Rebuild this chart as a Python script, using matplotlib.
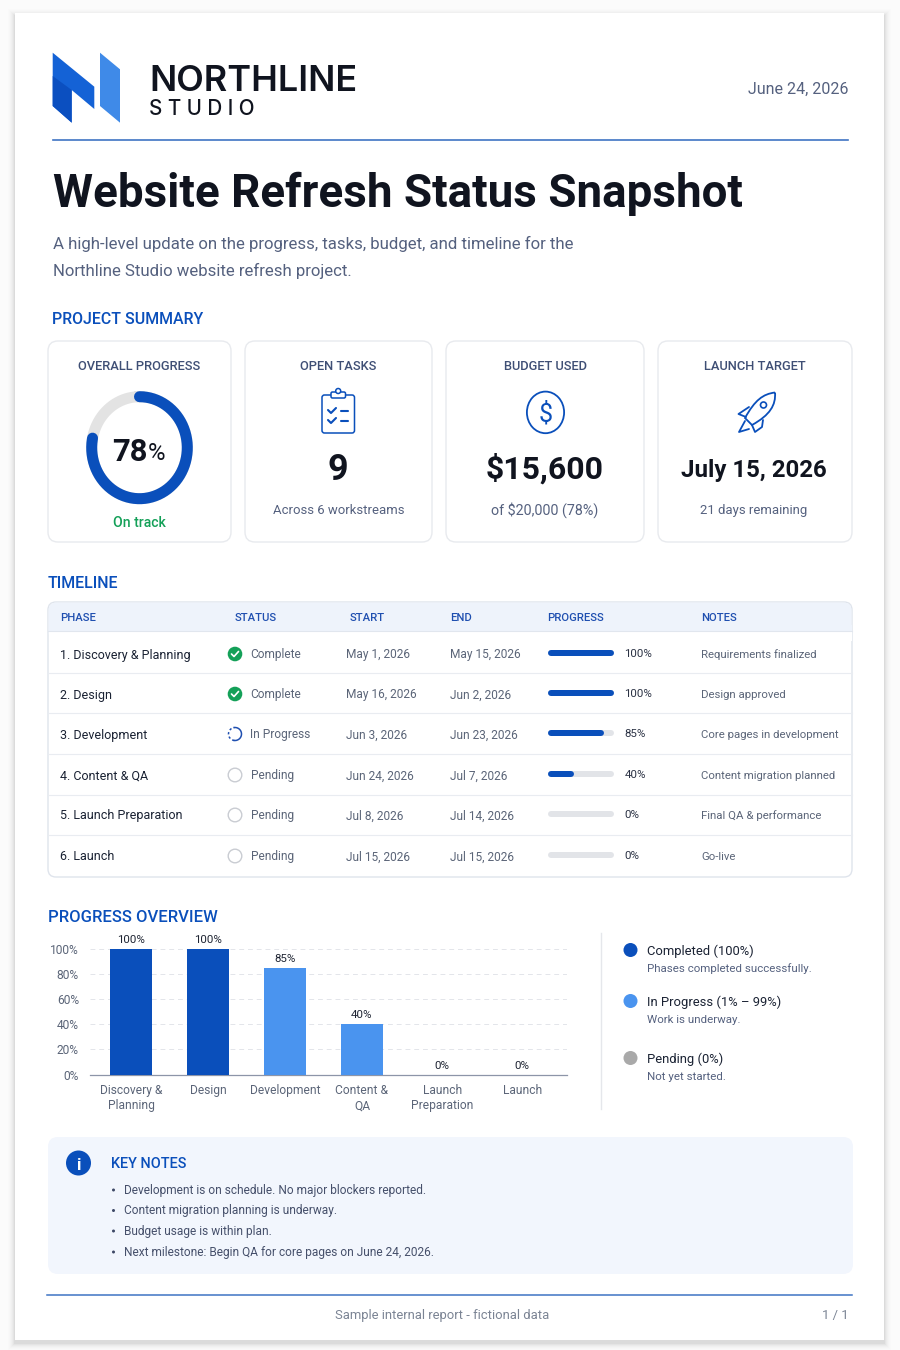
import numpy as np
import matplotlib
matplotlib.use("Agg")
import matplotlib.pyplot as plt
from matplotlib.patches import Circle, Ellipse, FancyBboxPatch, PathPatch, Polygon, Rectangle
from matplotlib.path import Path

plt.rcParams['font.family'] = ['Roboto', 'DejaVu Sans']

# data
phases = ["1. Discovery & Planning", "2. Design", "3. Development", "4. Content & QA",
          "5. Launch Preparation", "6. Launch"]
statuses = ["Complete", "Complete", "In Progress", "Pending", "Pending", "Pending"]
starts = ["May 1, 2026", "May 16, 2026", "Jun 3, 2026", "Jun 24, 2026", "Jul 8, 2026", "Jul 15, 2026"]
ends = ["May 15, 2026", "Jun 2, 2026", "Jun 23, 2026", "Jul 7, 2026", "Jul 14, 2026", "Jul 15, 2026"]
progress = [100, 100, 85, 40, 0, 0]
notes = ["Requirements finalized", "Design approved", "Core pages in development",
         "Content migration planned", "Final QA & performance", "Go-live"]
headers = ["PHASE", "STATUS", "START", "END", "PROGRESS", "NOTES"]

overall_progress = 78
chart_labels = ["Discovery &\nPlanning", "Design", "Development", "Content &\nQA",
                "Launch\nPreparation", "Launch"]
y_ticks = [0, 20, 40, 60, 80, 100]

legend_titles = ["Completed (100%)", "In Progress (1% – 99%)", "Pending (0%)"]
legend_texts = ["Phases completed successfully.", "Work is underway.", "Not yet started."]
key_notes = ["Development is on schedule. No major blockers reported.",
             "Content migration planning is underway.",
             "Budget usage is within plan.",
             "Next milestone: Begin QA for core pages on June 24, 2026."]

# colours
BLUE = '#0a4fbb'
LIGHT_BLUE = '#4a94ef'
DARK = '#10141f'
SLATE = '#55617f'
GREY_TEXT = '#5b6578'
GREEN = '#14a058'
RULE = '#3f74c4'
BORDER = '#e8eaee'

fig = plt.figure(figsize=(9, 13.5), dpi=100, facecolor='#fbfbfb')
# the whole page is one axes in pixel units, y going down
ax = fig.add_axes([0, 0, 1, 1])
ax.set_xlim(0, 900)
ax.set_ylim(1350, 0)
ax.axis('off')


def txt(x, y, s, px, color=DARK, weight='normal', ha='left', family=None):
    # y is the middle of the capitals, size is in pixels
    return ax.text(x, y + 0.36 * px, s, fontsize=px * 0.72, color=color, fontweight=weight,
                   ha=ha, va='baseline', family=family)


def box(x0, y0, x1, y1, r, fc, ec='none', lw=1.0):
    ax.add_patch(FancyBboxPatch((x0 + r, y0 + r), x1 - x0 - 2 * r, y1 - y0 - 2 * r,
                                boxstyle=f"round,pad={r},rounding_size={r}", fc=fc, ec=ec, lw=lw))


def icon_line(points, lw=1.5, color=BLUE):
    xs, ys = zip(*points)
    ax.plot(xs, ys, color=color, lw=lw, solid_capstyle='round', solid_joinstyle='round')


# page and its soft shadow
for i, a in zip(range(7, 0, -1), [0.006, 0.009, 0.012, 0.016, 0.02, 0.028, 0.04]):
    ax.add_patch(Rectangle((15 - i, 13 - i + 3), 869 + 2 * i, 1327 + 2 * i, fc='black', alpha=a, ec='none'))
ax.add_patch(Rectangle((15, 13), 869, 1327, fc='white', ec='none'))

# logo
ax.add_patch(Polygon([(52.7, 52.7), (94.3, 86.7), (94.3, 109), (71.7, 90), (71.7, 122.7), (52.7, 106)],
                     fc='#1462d6', ec='none'))
ax.add_patch(Polygon([(52.7, 76), (71.7, 90), (71.7, 122.7), (52.7, 106)], fc='#0b4fc0', ec='none'))
ax.add_patch(Polygon([(100, 52.7), (120, 69.3), (120, 122.7), (100, 106)], fc='#3f8ae8', ec='none'))
txt(149, 78, "NORTHLINE", 36, weight='semibold', family=['Inter', 'DejaVu Sans'])
txt(149, 108, "S T U D I O", 20.6, weight='medium', family=['Inter', 'DejaVu Sans'])
txt(848, 88, "June 24, 2026", 16, SLATE, ha='right')
ax.plot([53, 848], [140, 140], color=RULE, lw=1.2)

# title block
txt(53, 191, "Website Refresh Status Snapshot", 45.8, weight='bold')
txt(53, 243, "A high-level update on the progress, tasks, budget, and timeline for the", 16.8, SLATE)
txt(53, 270, "Northline Studio website refresh project.", 16.8, SLATE)

# project summary cards
txt(52, 318, "PROJECT SUMMARY", 15.9, BLUE, 'medium')
for x0, x1 in [(48, 231), (245, 432), (446, 644), (658, 852)]:
    box(x0, 341, x1, 542, 10, 'white', BORDER, 1.0)
txt(139.5, 365, "OVERALL PROGRESS", 12.9, '#3f4f75', 'medium', 'center')
txt(338.5, 365, "OPEN TASKS", 12.9, '#3f4f75', 'medium', 'center')
txt(545, 365, "BUDGET USED", 12.9, '#3f4f75', 'medium', 'center')
txt(754.5, 365, "LAUNCH TARGET", 12.9, '#3f4f75', 'medium', 'center')

# donut, a little taller than wide like the reference
t = np.linspace(0, 2 * np.pi, 200)
ax.plot(139.5 + 47.8 * np.sin(t), 447.7 - 51 * np.cos(t), color='#e3e3e3', lw=11 * 0.72)
t = np.linspace(0, 2 * np.pi * overall_progress / 100, 200)
ax.plot(139.5 + 47.8 * np.sin(t), 447.7 - 51 * np.cos(t), color=BLUE, lw=11 * 0.72, solid_capstyle='round')
txt(147.5, 450, "78", 31, weight='bold', ha='right')
txt(147.5, 451, "%", 24)
txt(139.5, 522, "On track", 14, GREEN, 'medium', 'center')

# clipboard icon
box(322, 395, 354.5, 433, 2.5, 'white', BLUE, 1.1)
box(331, 392, 345.5, 398, 1.5, 'white', BLUE, 1.1)
ax.add_patch(Circle((338.2, 391), 2.5, fc='white', ec=BLUE, lw=1.1))
icon_line([(328, 410), (331, 413), (336, 408)])
icon_line([(328, 420), (331, 423), (336, 418)])
icon_line([(341, 410.5), (348, 410.5)])
icon_line([(341, 420.5), (348, 420.5)])
txt(338, 467, "9", 36, weight='bold', ha='center')
txt(338.5, 509, "Across 6 workstreams", 13.1, SLATE, ha='center')

# dollar icon
ax.add_patch(Ellipse((545.5, 412.4), 37.2, 41.6, fc='white', ec=BLUE, lw=1.3))
txt(545.5, 412.5, "$", 25, BLUE, ha='center')
txt(545, 467, "$15,600", 32, weight='bold', ha='center')
txt(545, 509, "of $20,000 (78%)", 14.2, SLATE, ha='center')

# rocket icon
rocket = Path([(775, 392.5), (763, 394), (755, 400), (745, 418), (752, 425), (770, 415), (776, 405), (775, 392.5)],
              [Path.MOVETO, Path.CURVE4, Path.CURVE4, Path.LINETO, Path.LINETO, Path.CURVE4, Path.CURVE4, Path.CURVE4])
ax.add_patch(PathPatch(rocket, fc='white', ec=BLUE, lw=1.3))
ax.add_patch(Circle((763.5, 405), 3, fc='white', ec=BLUE, lw=1.2))
icon_line([(749, 407), (738.5, 414), (746, 417)], 1.3)
icon_line([(763, 420), (762, 427), (755, 432), (752, 425)], 1.3)
icon_line([(745, 421), (739, 432), (749, 429)], 1.3)
txt(754, 468, "July 15, 2026", 24, weight='bold', ha='center')
txt(754, 509, "21 days remaining", 13.1, SLATE, ha='center')

# timeline table
txt(48, 582, "TIMELINE", 16, BLUE, 'medium')
box(48, 602, 852, 877, 8, 'white', '#dfe4ec', 1.0)
box(48.5, 602.5, 851.5, 640, 8, '#eef3fb')
ax.add_patch(Rectangle((48.5, 625), 803, 16, fc='white', ec='none'))
ax.add_patch(Rectangle((48.5, 625), 803, 6, fc='#eef3fb', ec='none'))
ax.plot([48, 852], [631, 631], color='#e1e6ee', lw=0.8)
header_x = [60, 235, 350, 450, 547, 701]
for hx, h in zip(header_x, headers):
    txt(hx, 617, h, 11.2, '#1f4fb0', 'medium')

row_y = [654, 694, 734, 775, 815, 856]
for y in [672.5, 713, 754, 794.5, 835]:
    ax.plot([48, 852], [y, y], color='#e9ecf1', lw=0.8)

for i, y in enumerate(row_y):
    txt(60, y, phases[i], 12.5, '#1a2233')
    st = statuses[i]
    if st == "Complete":
        ax.add_patch(Circle((235, y), 7.3, fc=GREEN, ec='none'))
        icon_line([(231.5, y), (234, y + 2.5), (238.5, y - 2.5)], 1.2, 'white')
    elif st == "In Progress":
        t = np.linspace(-0.1, np.pi + 0.1, 40)
        ax.plot(235 + 6.5 * np.sin(t), y - 6.5 * np.cos(t), color='#1f4fb0', lw=1.1)
        t = np.linspace(np.pi + 0.1, 2 * np.pi - 0.1, 40)
        ax.plot(235 + 6.5 * np.sin(t), y - 6.5 * np.cos(t), color='#1f4fb0', lw=1.1, ls=(0, (1.5, 1.5)))
    else:
        ax.add_patch(Circle((235, y), 6.8, fc='white', ec='#c9ccd2', lw=1.0))
    txt(250.5, y, st, 11.9, GREY_TEXT)
    txt(346, y, starts[i], 11.9, GREY_TEXT)
    txt(449.5, y, ends[i], 11.9, GREY_TEXT)
    # bar runs 548-614 with the round caps included
    ax.plot([551, 611], [y - 1, y - 1], color='#e2e4e8', lw=6 * 0.72, solid_capstyle='round')
    if progress[i] > 0:
        ax.plot([551, 545 + 66 * progress[i] / 100], [y - 1, y - 1], color=BLUE, lw=6 * 0.72,
                solid_capstyle='round')
    txt(624.5, y - 1, f"{progress[i]}%", 11.5, '#2b3244')
    txt(701, y, notes[i], 11.4, GREY_TEXT)

# progress overview
txt(48, 916, "PROGRESS OVERVIEW", 16.6, BLUE, 'medium')
ax2 = fig.add_axes([90 / 900, 1 - 1074.5 / 1350, 477 / 900, 142.5 / 1350])
ax2.patch.set_alpha(0)
slots = [0, 1, 2, 3, 4.04, 5.08]
colors = [BLUE if p == 100 else LIGHT_BLUE for p in progress]
ax2.bar(slots, progress, width=0.545, color=colors, zorder=3)
for s, p in zip(slots, progress):
    ax2.annotate(f"{p}%", (s, p), xytext=(0, 2.8), textcoords='offset points', ha='center', va='bottom',
                 fontsize=11.5 * 0.72, color='#1f2533', zorder=4)
ax2.set_xlim(-0.532, 5.662)
ax2.set_ylim(0, 113.5)
ax2.set_yticks(y_ticks)
ax2.set_yticklabels([f"{v}%" for v in y_ticks], va='center_baseline')
ax2.set_xticks(slots)
ax2.set_xticklabels(chart_labels, linespacing=1.2)
ax2.tick_params(axis='both', length=0, labelsize=12 * 0.72, labelcolor=GREY_TEXT)
ax2.tick_params(axis='x', pad=7)
ax2.tick_params(axis='y', pad=8)
ax2.grid(axis='y', color='#e3e5ea', lw=0.7, ls=(0, (5, 4)), zorder=0)
for side in ['top', 'right', 'left']:
    ax2.spines[side].set_visible(False)
ax2.spines['bottom'].set_color('#8d95a8')
ax2.spines['bottom'].set_linewidth(0.9)

# legend on the right
ax.plot([600.5, 600.5], [933, 1109], color='#e5e7eb', lw=1)
for yy, col, title, sub in zip([950, 1001, 1058], [BLUE, LIGHT_BLUE, '#a9a9a9'], legend_titles, legend_texts):
    ax.add_patch(Circle((630.5, yy), 7, fc=col, ec='none'))
    txt(647, yy + 0.5, title, 13, '#1a2233')
    txt(647, yy + 18, sub, 11.5, SLATE)

# key notes
box(48, 1137, 853, 1274, 10, '#f2f6fd')
ax.add_patch(Circle((78.5, 1163), 12.5, fc=BLUE, ec='none'))
txt(78.5, 1163.5, "i", 17, 'white', 'bold', 'center')
txt(111, 1163, "KEY NOTES", 14.5, BLUE, 'medium')
for y, line in zip([1190, 1210.5, 1231, 1252], key_notes):
    ax.add_patch(Circle((113.5, y), 1.5, fc='#3d4866', ec='none'))
    txt(124, y - 0.5, line, 11.9, '#46506b')

# footer
ax.plot([47, 852], [1295, 1295], color=RULE, lw=1.1)
txt(442, 1314, "Sample internal report - fictional data", 13, '#7b8494', ha='center')
txt(849, 1314, "1 / 1", 13, '#7b8494', ha='right')

fig.savefig("out.png", dpi=100, facecolor=fig.get_facecolor())
